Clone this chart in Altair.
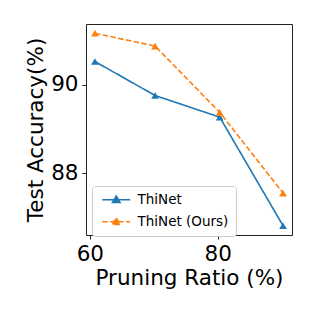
import altair as alt
import pandas as pd

series_names = ["ThiNet", "ThiNet (Ours)"]
x_vals = [60.8, 70.2, 80.3, 90.2]
thinet = [90.53, 89.76, 89.27, 86.81]
ours = [91.17, 90.88, 89.38, 87.55]
x_ticks = [60, 80]
y_ticks = [88, 90]

rows = []
for name, ys in zip(series_names, [thinet, ours]):
    for x, y in zip(x_vals, ys):
        rows.append({"series": name, "x": x, "y": y})
df = pd.DataFrame(rows)

colors = ["#1f77b4", "#ff7f0e"]
dashes = [[1, 0], [5.5, 2.4]]

legend_path = "M-1,0H7M3,-1.1L4.1,0.8L1.9,0.8Z"

legend = alt.Legend(
    title=None,
    orient="none",
    legendX=6,
    legendY=162,
    symbolType=legend_path,
    symbolSize=49,
    symbolStrokeWidth=1.5,
    labelFontSize=13.5,
    labelFont="DejaVu Sans",
    labelColor="#000",
    labelOffset=25,
    rowPadding=7,
    padding=7,
    strokeColor="#ccc",
    fillColor="white",
    cornerRadius=3,
)
color_scale = alt.Scale(domain=series_names, range=colors)
dash_scale = alt.Scale(domain=series_names, range=dashes)

x_enc = alt.X(
    "x:Q",
    scale=alt.Scale(domain=[59.4, 91.6], nice=False, zero=False),
    axis=alt.Axis(values=x_ticks, title="Pruning Ratio (%)", grid=False,
                  tickSize=4, labelPadding=4, titlePadding=3, format="d"),
)
y_enc = alt.Y(
    "y:Q",
    scale=alt.Scale(domain=[86.6, 91.38], nice=False, zero=False),
    axis=alt.Axis(values=y_ticks, title="Test Accuracy(%)", grid=False,
                  tickSize=4, labelPadding=4, titlePadding=3, format="d"),
)

base = alt.Chart(df)
lines = base.mark_line(strokeWidth=1.6).encode(
    x=x_enc, y=y_enc,
    color=alt.Color("series:N", scale=color_scale, legend=legend),
    strokeDash=alt.StrokeDash("series:N", scale=dash_scale, legend=legend),
)
points = base.mark_point(shape="triangle-up", filled=True, size=60, opacity=1).encode(
    x=x_enc, y=y_enc,
    color=alt.Color("series:N", scale=color_scale, legend=legend),
)

chart = alt.layer(lines, points).properties(
    width=206,
    height=211,
    autosize=alt.AutoSizeParams(type="none"),
    padding={"left": 78, "top": 16, "right": 16, "bottom": 73},
).configure_view(stroke="#222", strokeWidth=1).configure_axis(
    labelFont="DejaVu Sans",
    titleFont="DejaVu Sans",
    labelFontSize=21.5,
    titleFontSize=21.5,
    titleFontWeight="normal",
    labelColor="#000",
    titleColor="#000",
    domainColor="#222",
    tickColor="#222",
    domain=False,
)

chart.save("out.html", embed_options={"renderer": "svg", "actions": False})
